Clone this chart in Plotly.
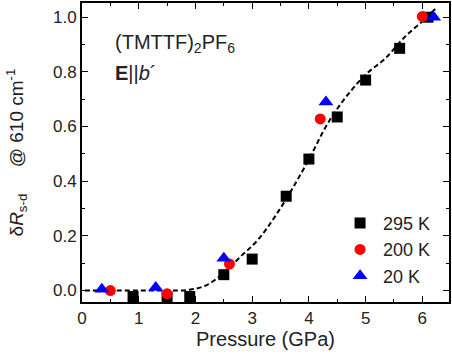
import plotly.graph_objects as go

# Data
p295 = [0.9, 1.5, 1.9, 2.5, 3.0, 3.6, 4.0, 4.5, 5.0, 5.6, 6.1]
r295 = [-0.022, -0.024, -0.022, 0.058, 0.115, 0.345, 0.481, 0.635, 0.770, 0.886, 1.0]
p200 = [0.5, 1.5, 2.6, 4.2, 6.0]
r200 = [0.0, -0.012, 0.097, 0.628, 1.003]
p20 = [0.35, 1.3, 2.5, 4.3, 6.2]
r20 = [0.005, 0.011, 0.118, 0.69, 1.0]
guide_p = [0.05, 0.5, 1.0, 1.5, 1.9, 2.2, 2.5, 2.8, 3.1, 3.4, 3.7, 4.0, 4.3, 4.5, 4.7, 5.0, 5.35, 5.7, 6.0, 6.25]
guide_r = [0.0, 0.0, 0.0, 0.0, 0.003, 0.02, 0.065, 0.125, 0.185, 0.27, 0.37, 0.48, 0.6, 0.665, 0.72, 0.79, 0.85, 0.93, 0.985, 1.035]

fig = go.Figure()
fig.add_trace(go.Scatter(x=guide_p, y=guide_r, mode="lines", showlegend=False,
                         line=dict(color="black", width=2, dash="5px,3px", shape="spline")))
fig.add_trace(go.Scatter(x=p295, y=r295, mode="markers", name="295 K",
                         marker=dict(symbol="square", size=11, color="black")))
fig.add_trace(go.Scatter(x=p200, y=r200, mode="markers", name="200 K",
                         marker=dict(symbol="circle", size=11, color="red")))
fig.add_trace(go.Scatter(x=p20, y=r20, mode="markers", name="20 K",
                         marker=dict(symbol="triangle-up", size=13, color="blue")))

font = "Liberation Sans, Arial, sans-serif"
fig.update_layout(
    width=452, height=362,
    margin=dict(l=82, r=1, t=1, b=60),
    paper_bgcolor="white", plot_bgcolor="white",
    font=dict(family=font, size=17, color="#222"),
    showlegend=True,
    legend=dict(x=0.695, y=0.325, xanchor="left", yanchor="top", bgcolor="rgba(0,0,0,0)",
                font=dict(size=18), itemwidth=36, tracegroupgap=0),
    xaxis=dict(range=[0, 6.47], tickvals=[0, 1, 2, 3, 4, 5, 6], ticks="inside", ticklen=6,
               tickwidth=1, tickcolor="black", showline=True, linecolor="black", linewidth=2,
               mirror="ticks", showgrid=False, zeroline=False,
               minor=dict(ticks="inside", ticklen=3, dtick=0.5, tickcolor="black", showgrid=False),
               title=dict(text="Pressure (GPa)", font=dict(size=20), standoff=4),
               tickfont=dict(size=17)),
    yaxis=dict(range=[-0.042, 1.052], tickvals=[0, 0.2, 0.4, 0.6, 0.8, 1.0], tickformat=".1f",
               ticks="inside", ticklen=6, tickwidth=1, tickcolor="black",
               showline=True, linecolor="black", linewidth=2, mirror="ticks",
               showgrid=False, zeroline=False,
               minor=dict(ticks="inside", ticklen=3, dtick=0.1, tickcolor="black", showgrid=False),
               title=dict(text="δ<i>R</i><sub>s-d</sub>&nbsp;&nbsp;&nbsp;&nbsp;&nbsp;@ 610 cm<sup>-1</sup>",
                          font=dict(size=19), standoff=24),
               tickfont=dict(size=17)),
)
fig.add_annotation(xref="paper", yref="paper", x=0.085, y=0.865, xanchor="left", yanchor="middle",
                   text="(TMTTF)<sub>2</sub>PF<sub>6</sub>", showarrow=False, font=dict(size=20))
fig.add_annotation(xref="paper", yref="paper", x=0.085, y=0.765, xanchor="left", yanchor="middle",
                   text="<b>E</b>||<i>b</i>´", showarrow=False, font=dict(size=20))

fig.write_html("out.html")
